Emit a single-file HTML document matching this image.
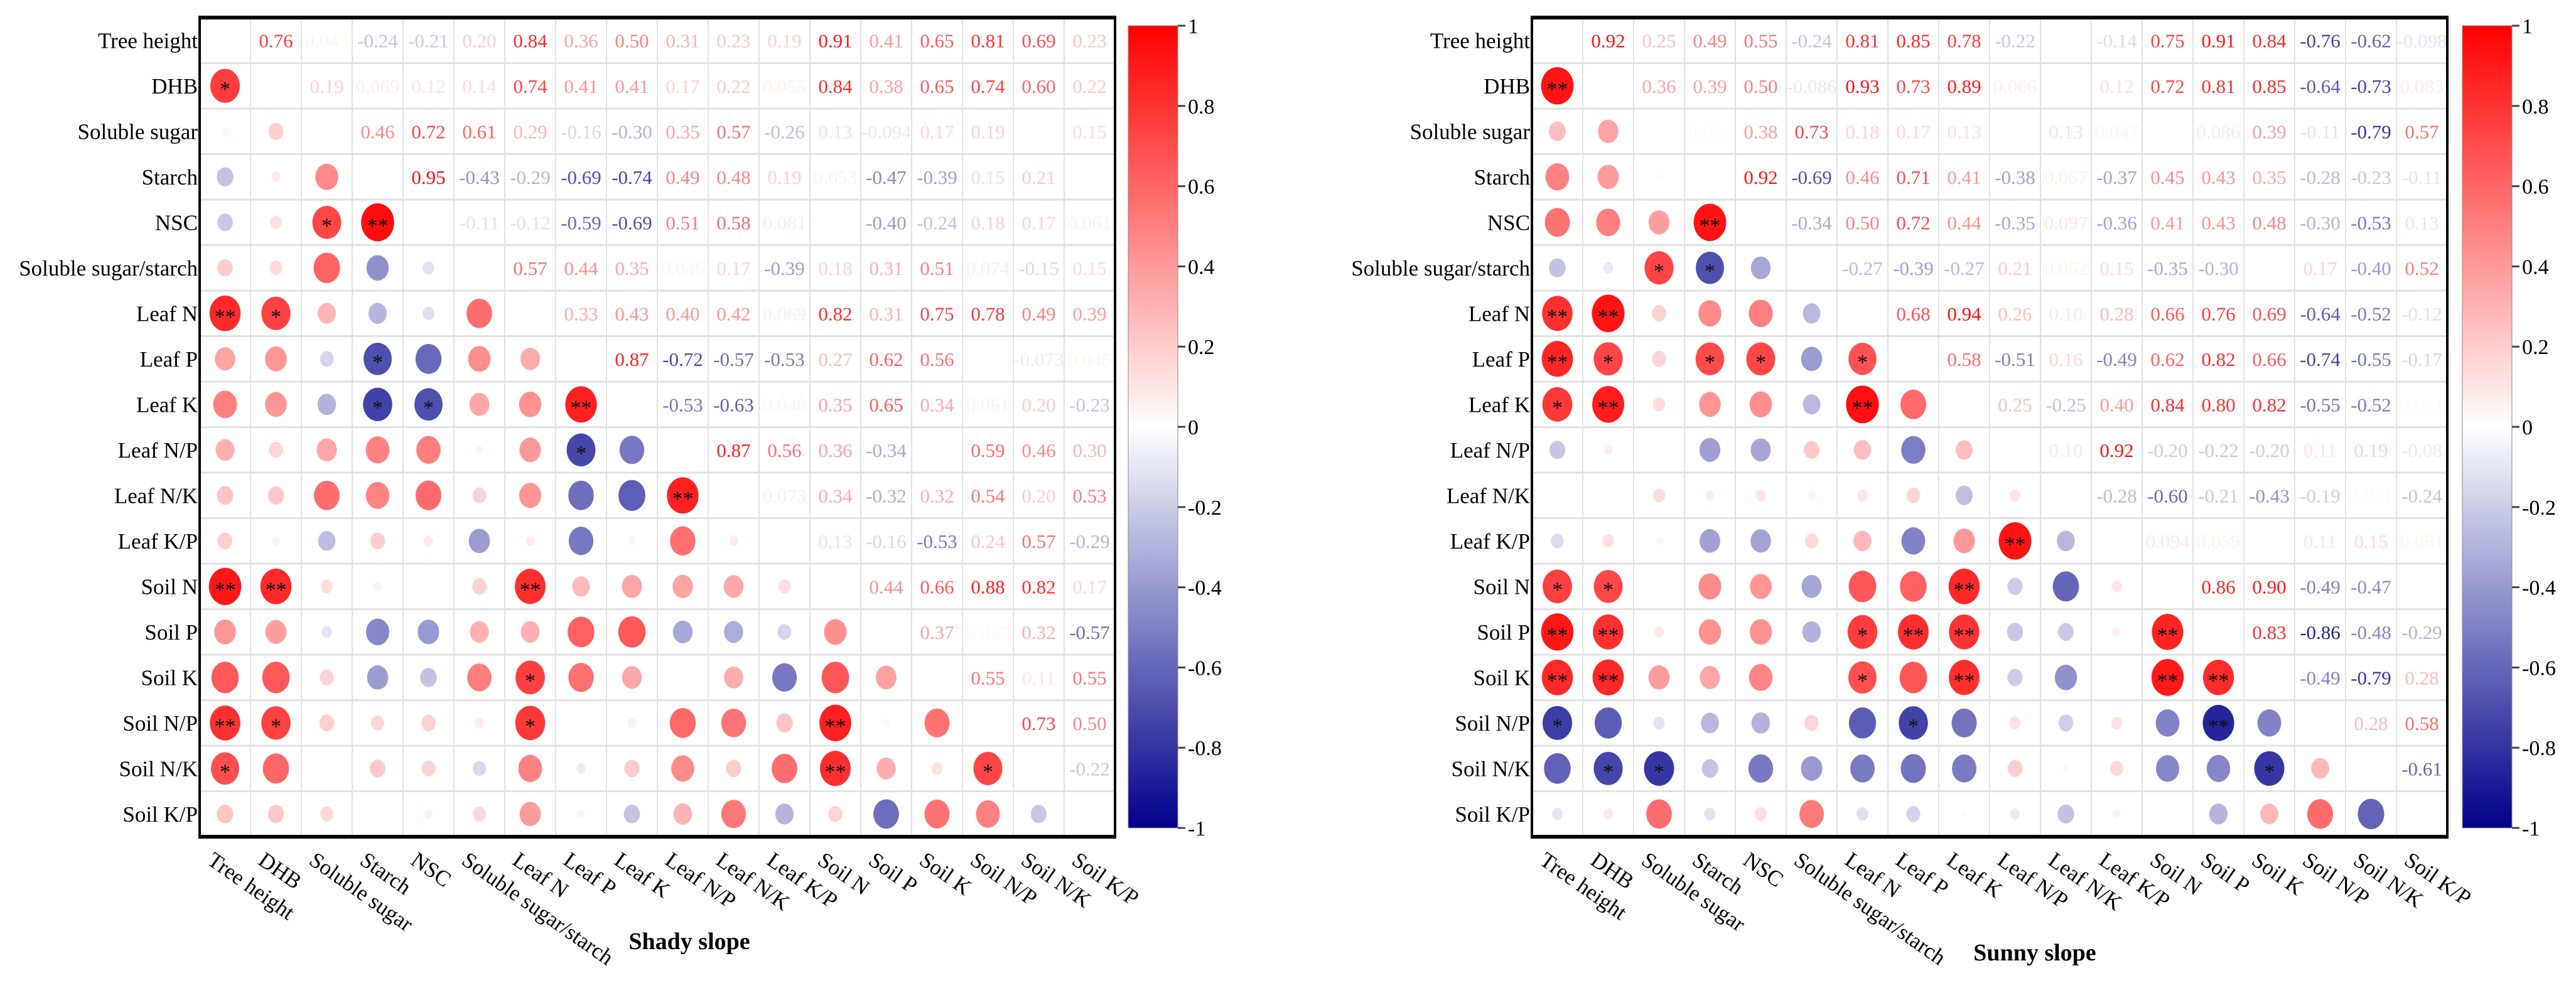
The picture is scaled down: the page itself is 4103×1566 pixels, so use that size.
<!DOCTYPE html>
<html><head><meta charset="utf-8"><style>
html,body{margin:0;padding:0;background:#fff;}
svg{display:block;font-family:"Liberation Serif",serif;}
</style></head><body>
<svg id="chart" width="4103" height="1566" viewBox="0 0 4103 1566" xmlns="http://www.w3.org/2000/svg">
<defs>
<linearGradient id="cbgrad" x1="0" y1="0" x2="0" y2="1">
<stop offset="0" stop-color="#ff0000"/><stop offset="0.5" stop-color="#ffffff"/><stop offset="1" stop-color="#00008b"/>
</linearGradient>
</defs>
</svg>
<script>
const labels=["Tree height","DHB","Soluble sugar","Starch","NSC","Soluble sugar/starch","Leaf N","Leaf P","Leaf K","Leaf N/P","Leaf N/K","Leaf K/P","Soil N","Soil P","Soil K","Soil N/P","Soil N/K","Soil K/P"];
const cbTicks=[1,0.8,0.6,0.4,0.2,0,-0.2,-0.4,-0.6,-0.8,-1];
const shadyUpper=[
[0.76,0.043,-0.24,-0.21,0.20,0.84,0.36,0.50,0.31,0.23,0.19,0.91,0.41,0.65,0.81,0.69,0.23],
[0.19,0.069,0.12,0.14,0.74,0.41,0.41,0.17,0.22,0.055,0.84,0.38,0.65,0.74,0.60,0.22],
[0.46,0.72,0.61,0.29,-0.16,-0.30,0.35,0.57,-0.26,0.13,-0.094,0.17,0.19,0,0.15],
[0.95,-0.43,-0.29,-0.69,-0.74,0.49,0.48,0.19,0.053,-0.47,-0.39,0.15,0.21,0],
[-0.11,-0.12,-0.59,-0.69,0.51,0.58,0.081,0,-0.40,-0.24,0.18,0.17,0.061],
[0.57,0.44,0.35,0.046,0.17,-0.39,0.18,0.31,0.51,0.074,-0.15,0.15],
[0.33,0.43,0.40,0.42,0.069,0.82,0.31,0.75,0.78,0.49,0.39],
[0.87,-0.72,-0.57,-0.53,0.27,0.62,0.56,0,-0.073,0.045],
[-0.53,-0.63,0.048,0.35,0.65,0.34,0.061,0.20,-0.23],
[0.87,0.56,0.36,-0.34,0,0.59,0.46,0.30],
[0.073,0.34,-0.32,0.32,0.54,0.20,0.53],
[0.13,-0.16,-0.53,0.24,0.57,-0.29],
[0.44,0.66,0.88,0.82,0.17],
[0.37,0.037,0.32,-0.57],
[0.55,0.11,0.55],
[0.73,0.50],
[-0.22],
[]];
const shadyStars=[[1,0,"*"],[4,2,"*"],[4,3,"**"],[6,0,"**"],[6,1,"*"],[7,3,"*"],[8,3,"*"],[8,4,"*"],[8,7,"**"],[9,7,"*"],[10,9,"**"],[12,0,"**"],[12,1,"**"],[12,6,"**"],[14,6,"*"],[15,0,"**"],[15,1,"*"],[15,6,"*"],[15,12,"**"],[16,0,"*"],[16,12,"**"],[16,15,"*"]];
const sunnyUpper=[
[0.92,0.25,0.49,0.55,-0.24,0.81,0.85,0.78,-0.22,0,-0.14,0.75,0.91,0.84,-0.76,-0.62,-0.098],
[0.36,0.39,0.50,-0.086,0.93,0.73,0.89,0.066,0,0.12,0.72,0.81,0.85,-0.64,-0.73,0.083],
[0.022,0.38,0.73,0.18,0.17,0.13,0,0.13,0.047,0,0.086,0.39,-0.11,-0.79,0.57],
[0.92,-0.69,0.46,0.71,0.41,-0.38,0.067,-0.37,0.45,0.43,0.35,-0.28,-0.23,-0.11],
[-0.34,0.50,0.72,0.44,-0.35,0.097,-0.36,0.41,0.43,0.48,-0.30,-0.53,0.13],
[-0.27,-0.39,-0.27,0.21,0.052,0.15,-0.35,-0.30,0,0.17,-0.40,0.52],
[0.68,0.94,0.26,0.10,0.28,0.66,0.76,0.69,-0.64,-0.52,-0.12],
[0.58,-0.51,0.16,-0.49,0.62,0.82,0.66,-0.74,-0.55,-0.17],
[0.25,-0.25,0.40,0.84,0.80,0.82,-0.55,-0.52,0.021],
[0.10,0.92,-0.20,-0.22,-0.20,0.11,0.19,-0.080],
[-0.28,-0.60,-0.21,-0.43,-0.19,0.031,-0.24],
[0.094,0.059,0,0.11,0.15,0.051],
[0.86,0.90,-0.49,-0.47,0],
[0.83,-0.86,-0.48,-0.29],
[-0.49,-0.79,0.28],
[0.28,0.58],
[-0.61],
[]];
const sunnyStars=[[1,0,"**"],[4,3,"**"],[5,2,"*"],[5,3,"*"],[6,0,"**"],[6,1,"**"],[7,0,"**"],[7,1,"*"],[7,3,"*"],[7,4,"*"],[7,6,"*"],[8,0,"*"],[8,1,"**"],[8,6,"**"],[11,9,"**"],[12,0,"*"],[12,1,"*"],[12,8,"**"],[13,0,"**"],[13,1,"**"],[13,6,"*"],[13,7,"**"],[13,8,"**"],[13,12,"**"],[14,0,"**"],[14,1,"**"],[14,6,"*"],[14,8,"**"],[14,12,"**"],[14,13,"**"],[15,0,"*"],[15,7,"*"],[15,13,"**"],[16,1,"*"],[16,2,"*"],[16,14,"*"]];

const NS="http://www.w3.org/2000/svg";
const svg=document.getElementById("chart");
const CW=81,CH=72.5,N=18;
function mk(tag,attrs,parent){const e=document.createElementNS(NS,tag);for(const k in attrs)e.setAttribute(k,attrs[k]);(parent||svg).appendChild(e);return e;}
function color(v){
  if(v>=0){const g=Math.round(255*(1-v));return `rgb(255,${g},${g})`;}
  const t=-v;const g=Math.round(255*(1-t));const b=Math.round(255-t*(255-139));return `rgb(${g},${g},${b})`;
}
function fmt(v){
  if(v===0)return "";
  const a=Math.abs(v);
  let s=a<0.1?a.toFixed(3):a.toFixed(2);
  if(a<0.1){s=s.replace(/0+$/,"");if(s.length<4)s=a.toFixed(2);}
  return (v<0?"-":"")+s;
}
function full(upper){
  const M=[];for(let i=0;i<N;i++){M.push(new Array(N).fill(0));}
  for(let i=0;i<N;i++)for(let k=0;k<upper[i].length;k++){const j=i+1+k;M[i][j]=upper[i][k];M[j][i]=upper[i][k];}
  return M;
}
function drawPanel(upper,stars,x0,y0,cbx,title,tx,ty,key){
  const M=full(upper);
  const g=mk("g",{});
  
  
  const W=CW*N,H=CH*N;
  mk("rect",{x:x0,y:y0,width:W,height:H,fill:"#fff"},g);
  for(let i=1;i<N;i++){
    mk("line",{x1:x0+i*CW,y1:y0,x2:x0+i*CW,y2:y0+H,stroke:"#e2e2e2","stroke-width":2},g);
    mk("line",{x1:x0,y1:y0+i*CH,x2:x0+W,y2:y0+i*CH,stroke:"#e2e2e2","stroke-width":3},g);
  }
  const sx=j=>x0+CW*(j+0.5), sy=i=>y0+CH*(i+0.5);
  for(let i=0;i<N;i++)for(let j=0;j<N;j++){
    const v=M[i][j];
    if(j>i){
      const s=fmt(v);if(!s)continue;
      const t=mk("text",{x:sx(j),y:sy(i)+11,"font-size":31,"text-anchor":"middle",fill:color(v)},g);
      
      
      t.textContent=s;
    }else if(j<i && v!==0){
      const r=Math.sqrt(Math.abs(v));
      const c=mk("ellipse",{cx:sx(j),cy:sy(i),rx:27*r,ry:31*r,fill:color(v)},g);
      
      
    }
  }
  stars.forEach(s=>{
    const t=mk("text",{x:sx(s[1]),y:sy(s[0])+16,"font-size":34,"text-anchor":"middle",fill:"#111"},g);
    
    
    t.textContent=s[2];
  });
  mk("rect",{x:x0,y:y0,width:W,height:H,fill:"none",stroke:"#000","stroke-width":4},g);
  mk("line",{x1:x0-2,y1:y0,x2:x0+W+2,y2:y0,stroke:"#000","stroke-width":6},g);
  mk("line",{x1:x0-2,y1:y0+H,x2:x0+W+2,y2:y0+H,stroke:"#000","stroke-width":6},g);
  labels.forEach((l,i)=>{
    const t=mk("text",{x:x0-3,y:sy(i)+12,"font-size":35,"text-anchor":"end",fill:"#000"},g);
    
    
    t.textContent=l;
    const cx=sx(i)-16, cy=y0+H+22;
    const u=mk("text",{x:cx,y:cy,"font-size":35,"text-anchor":"start","dominant-baseline":"hanging",transform:`rotate(35 ${cx} ${cy})`,fill:"#000"},g);
    
    
    u.textContent=l;
  });
  const cbTop=41,cbBot=1319,cbW=79;
  const cb=mk("rect",{x:cbx,y:cbTop,width:cbW,height:cbBot-cbTop,fill:"url(#cbgrad)",stroke:"#888","stroke-width":1},g);
  
  
  cbTicks.forEach(v=>{
    const y=cbTop+(1-v)/2*(cbBot-cbTop);
    mk("line",{x1:cbx+cbW,y1:y,x2:cbx+cbW+12,y2:y,stroke:"#444","stroke-width":3},g);
    const t=mk("text",{x:cbx+cbW+16,y:y+12,"font-size":34,fill:"#000"},g);
    
    
    t.textContent=String(v);
  });
  const tt=mk("text",{x:tx,y:ty+12,"font-size":38,"font-weight":"bold","text-anchor":"middle",fill:"#000"},g);
  
  
  tt.textContent=title;
}
drawPanel(shadyUpper,shadyStars,318,28,1797,"Shady slope",1098,1500,"shady");
drawPanel(sunnyUpper,sunnyStars,2440,28,3922,"Sunny slope",3241,1518,"sunny");
</script>
</body></html>
